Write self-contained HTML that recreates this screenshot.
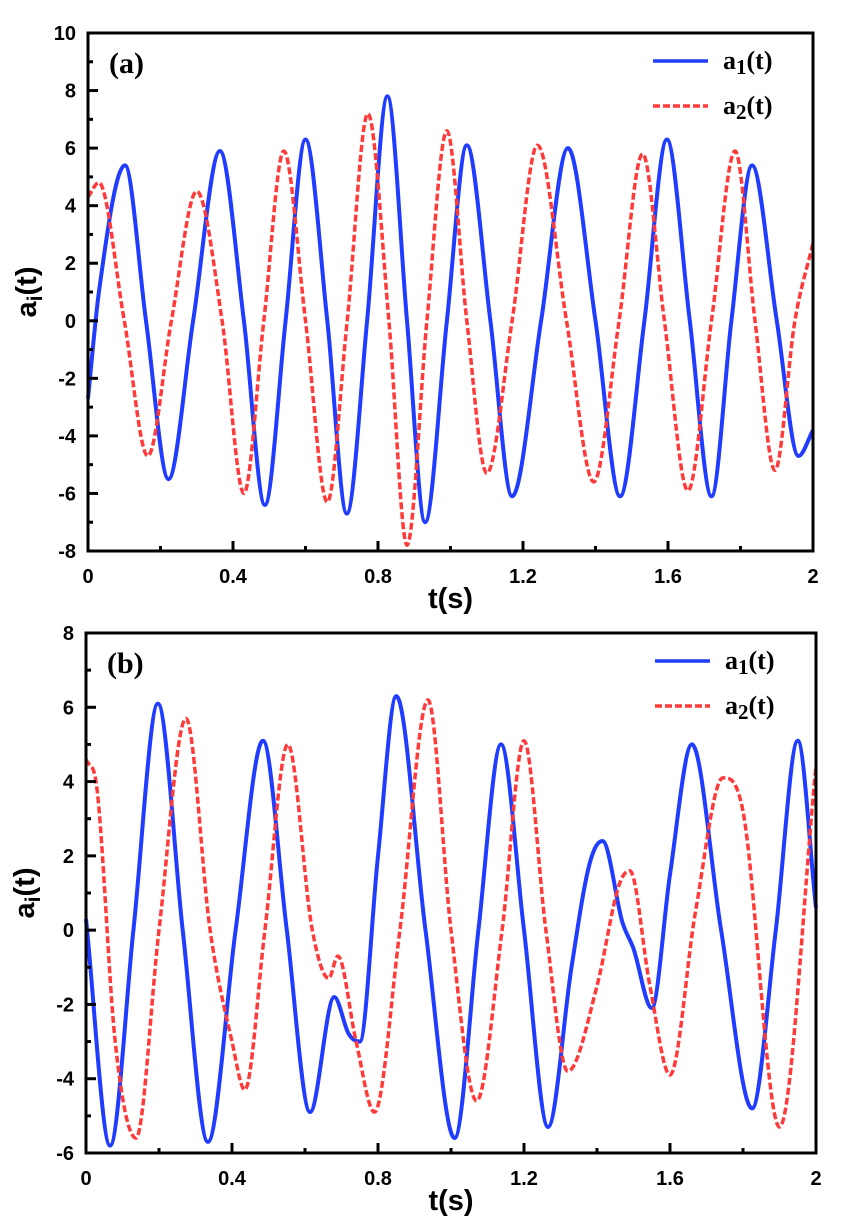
<!DOCTYPE html>
<html><head><meta charset="utf-8"><style>
html,body{margin:0;padding:0;background:#fff;}
svg{display:block;}
text{font-family:"Liberation Sans",Arial,sans-serif;font-weight:bold;fill:#000;}
.serif{font-family:"Liberation Serif","Times New Roman",serif;}
</style></head><body>
<svg id="chart" width="858" height="1219" viewBox="0 0 858 1219" xmlns="http://www.w3.org/2000/svg"></svg>
<script>
// Panel (a) data
const aXTicks = [0, 0.4, 0.8, 1.2, 1.6, 2];
const aXTickLabels = ["0", "0.4", "0.8", "1.2", "1.6", "2"];
const aYTicks = [-8, -6, -4, -2, 0, 2, 4, 6, 8, 10];
const aA1Times = [0, 0.03, 0.102, 0.16, 0.222, 0.29, 0.364, 0.43, 0.488, 0.545, 0.6, 0.66, 0.714, 0.77, 0.826, 0.88, 0.93, 0.99, 1.045, 1.11, 1.17, 1.25, 1.324, 1.4, 1.468, 1.535, 1.597, 1.66, 1.72, 1.775, 1.832, 1.9, 1.96, 2.0];
const aA1Values = [-2.7, 1.0, 5.4, 0, -5.5, 0, 5.9, 0, -6.4, 0, 6.3, 0, -6.7, 0, 7.8, 0, -7.0, 0, 6.1, 0, -6.1, 0, 6.0, 0, -6.1, 0, 6.3, 0, -6.1, 0, 5.4, 0, -4.7, -3.8];
const aA2Times = [0, 0.03, 0.1, 0.165, 0.23, 0.3, 0.37, 0.43, 0.485, 0.54, 0.6, 0.66, 0.715, 0.772, 0.83, 0.88, 0.935, 0.99, 1.045, 1.1, 1.17, 1.24, 1.32, 1.395, 1.465, 1.53, 1.59, 1.655, 1.72, 1.785, 1.84, 1.895, 1.95, 2.0];
const aA2Values = [4.3, 4.8, 0, -4.7, 0, 4.5, 0, -6.0, 0, 5.9, 0, -6.3, 0, 7.2, 0, -7.8, 0, 6.6, 0, -5.3, 0, 6.1, 0, -5.6, 0, 5.8, 0, -5.9, 0, 5.9, 0, -5.2, 0, 2.7];
// Panel (b) data
const bXTicks = [0, 0.4, 0.8, 1.2, 1.6, 2];
const bXTickLabels = ["0", "0.4", "0.8", "1.2", "1.6", "2"];
const bYTicks = [-6, -4, -2, 0, 2, 4, 6, 8];
const bA1Times = [0, 0.066, 0.13, 0.197, 0.265, 0.334, 0.41, 0.485, 0.55, 0.614, 0.68, 0.72, 0.75, 0.8, 0.85, 0.93, 1.01, 1.075, 1.137, 1.2, 1.266, 1.33, 1.38, 1.415, 1.47, 1.5, 1.55, 1.6, 1.66, 1.74, 1.825, 1.89, 1.95, 2.0];
const bA1Values = [0.3, -5.8, 0, 6.1, 0, -5.7, 0, 5.1, 0, -4.9, -1.8, -2.8, -3.0, 2, 6.3, 0, -5.6, 0, 5.0, 0, -5.3, -1, 1.8, 2.4, 0.2, -0.5, -2.1, 1.5, 5.0, 0, -4.8, 0, 5.1, 0.6];
const bA2Times = [0, 0.03, 0.08, 0.137, 0.2, 0.274, 0.34, 0.4, 0.435, 0.49, 0.553, 0.62, 0.665, 0.69, 0.74, 0.79, 0.86, 0.937, 1.0, 1.07, 1.14, 1.2, 1.26, 1.32, 1.4, 1.46, 1.49, 1.545, 1.6, 1.67, 1.745, 1.8, 1.9, 2.0];
const bA2Values = [4.6, 3.8, -3.0, -5.6, 0, 5.7, 0, -3.0, -4.3, 0, 5.0, 0, -1.3, -0.7, -3.0, -4.9, 0, 6.2, 0, -4.6, 0, 5.1, 0, -3.8, -1.5, 1.2, 1.6, -1.5, -3.9, 0.5, 4.1, 3.2, -5.3, 4.4];

const NS = "http://www.w3.org/2000/svg";
const svg = document.getElementById('chart');
function el(tag, attrs, parent) {
  const e = document.createElementNS(NS, tag);
  for (const k in attrs) e.setAttribute(k, attrs[k]);
  (parent || svg).appendChild(e);
  return e;
}
function monotonePath(xs, ys) {
  const n = xs.length, d = [], m = new Array(n);
  for (let i = 0; i < n - 1; i++) d.push((ys[i+1]-ys[i])/(xs[i+1]-xs[i]));
  m[0] = d[0]; m[n-1] = d[n-2];
  for (let i = 1; i < n - 1; i++) m[i] = (d[i-1]*d[i] <= 0) ? 0 : (d[i-1]+d[i])/2;
  let p = "M" + xs[0].toFixed(1) + "," + ys[0].toFixed(1);
  for (let i = 0; i < n - 1; i++) {
    const h = xs[i+1]-xs[i];
    p += " C" + (xs[i]+h/3).toFixed(1) + "," + (ys[i]+m[i]*h/3).toFixed(1) + " " +
      (xs[i+1]-h/3).toFixed(1) + "," + (ys[i+1]-m[i+1]*h/3).toFixed(1) + " " +
      xs[i+1].toFixed(1) + "," + ys[i+1].toFixed(1);
  }
  return p;
}
function panel(cfg) {
  const g = el('g', {});
  
  
  const X = t => cfg.x0 + (t - 0) / 2 * (cfg.x1 - cfg.x0);
  const Y = v => cfg.y1 - (v - cfg.ymin) / (cfg.ymax - cfg.ymin) * (cfg.y1 - cfg.y0);
  const s1 = el('path', {d: monotonePath(cfg.t1.map(X), cfg.v1.map(Y)), fill: 'none', stroke: '#1f3cff', 'stroke-width': 4, 'stroke-linejoin': 'round'}, g);
  
  
  const s2 = el('path', {d: monotonePath(cfg.t2.map(X), cfg.v2.map(Y)), fill: 'none', stroke: '#ff3a3a', 'stroke-width': 3.5, 'stroke-dasharray': '7,3'}, g);
  
  
  const fr = el('rect', {x: cfg.x0, y: cfg.y0, width: cfg.x1 - cfg.x0, height: cfg.y1 - cfg.y0, fill: 'none', stroke: '#000', 'stroke-width': 3}, g);
  
  
  cfg.xticks.forEach((t, i) => {
    el('line', {x1: X(t), x2: X(t), y1: cfg.y1, y2: cfg.y1 - 10, stroke: '#000', 'stroke-width': 3}, g);
    if (i < cfg.xticks.length - 1) {
      const tm = (t + cfg.xticks[i+1]) / 2;
      el('line', {x1: X(tm), x2: X(tm), y1: cfg.y1, y2: cfg.y1 - 5, stroke: '#000', 'stroke-width': 3}, g);
    }
    const lb = el('text', {x: X(t), y: cfg.y1 + 32, 'text-anchor': 'middle', 'font-size': 20}, g);
    lb.textContent = cfg.xlabels[i];
    
    
  });
  cfg.yticks.forEach((v, i) => {
    el('line', {x1: cfg.x0, x2: cfg.x0 + 10, y1: Y(v), y2: Y(v), stroke: '#000', 'stroke-width': 3}, g);
    if (i < cfg.yticks.length - 1) {
      el('line', {x1: cfg.x0, x2: cfg.x0 + 5, y1: Y(v + 1), y2: Y(v + 1), stroke: '#000', 'stroke-width': 3}, g);
    }
    const lb = el('text', {x: cfg.x0 - 12, y: Y(v) + 7, 'text-anchor': 'end', 'font-size': 20}, g);
    lb.textContent = String(v);
    
    
  });
  const xt = el('text', {x: (cfg.x0 + cfg.x1) / 2, y: cfg.y1 + 57, 'text-anchor': 'middle', 'font-size': 29}, g);
  xt.textContent = 't(s)';
  
  
  const yc = (cfg.y0 + cfg.y1) / 2;
  const yt = el('text', {x: 0, y: 0, 'text-anchor': 'middle', 'font-size': 29, transform: 'translate(' + (cfg.x0 - 52) + ',' + yc + ') rotate(-90)'}, g);
  yt.innerHTML = 'a<tspan font-size="21" dy="6">i</tspan><tspan dy="-6">(t)</tspan>';
  
  
  const pl = el('text', {x: cfg.x0 + 21, y: cfg.y0 + 40, 'font-size': 30, class: 'serif'}, g);
  pl.textContent = cfg.label;
  
  
  [['a', '1', '#1f3cff', null, 0], ['a', '2', '#ff3a3a', '7,3', 1]].forEach(([a, s, c, da, k]) => {
    const ly = cfg.y0 + 28 + k * 45;
    const lg = el('g', {}, g);
    
    
    const ln = el('line', {x1: cfg.legX, x2: cfg.legX + 55, y1: ly, y2: ly, stroke: c, 'stroke-width': 3.4}, lg);
    if (da) ln.setAttribute('stroke-dasharray', da);
    const tx = el('text', {x: cfg.legX + 70, y: ly + 8, 'font-size': 26, class: 'serif'}, lg);
    tx.innerHTML = a + '<tspan font-size="21" dy="5">' + s + '</tspan><tspan dy="-5">(t)</tspan>';
  });
}
panel({name: 'panel-a', label: '(a)', x0: 88, x1: 813, y0: 33, y1: 551, ymin: -8, ymax: 10,
  xticks: aXTicks, xlabels: aXTickLabels, yticks: aYTicks,
  t1: aA1Times, v1: aA1Values, t2: aA2Times, v2: aA2Values, legX: 653});
panel({name: 'panel-b', label: '(b)', x0: 86, x1: 816, y0: 633, y1: 1153, ymin: -6, ymax: 8,
  xticks: bXTicks, xlabels: bXTickLabels, yticks: bYTicks,
  t1: bA1Times, v1: bA1Values, t2: bA2Times, v2: bA2Values, legX: 655});
</script>
</body></html>
